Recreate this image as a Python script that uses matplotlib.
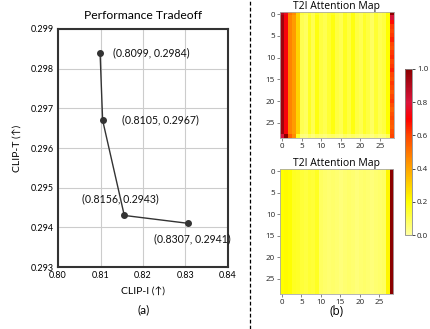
import matplotlib
matplotlib.use("Agg")
import matplotlib.pyplot as plt
from matplotlib.colors import LinearSegmentedColormap
from matplotlib.lines import Line2D
import numpy as np

# (a) performance tradeoff
clip_i = [0.8099, 0.8105, 0.8156, 0.8307]
clip_t = [0.2984, 0.2967, 0.2943, 0.2941]
point_labels = ["(0.8099, 0.2984)", "(0.8105, 0.2967)", "(0.8156, 0.2943)", "(0.8307, 0.2941)"]
label_offsets = [(9, 0, "left"), (14, 0, "left"), (-3, 12, "center"), (3, -11, "center")]

# (b) attention maps, values read per column (29 x 29 tokens)
top_cols = [0.95, 0.72, 0.47, 0.42, 0.30, 0.10, 0.08, 0.16, 0.10, 0.18,
            0.12, 0.10, 0.14, 0.18, 0.12, 0.10, 0.16, 0.12, 0.18, 0.12,
            0.10, 0.15, 0.12, 0.08, 0.14, 0.10, 0.12, 0.20, 0.62]
top_first_row = [0.90, 0.75, 0.50, 0.45, 0.30, 0.12, 0.10, 0.14, 0.10, 0.16,
                 0.12, 0.10, 0.14, 0.16, 0.12, 0.10, 0.16, 0.12, 0.18, 0.12,
                 0.10, 0.14, 0.12, 0.08, 0.14, 0.10, 0.12, 0.20, 1.00]
top_last_row = [0.80, 1.00, 0.55, 0.45, 0.15, 0.05, 0.04, 0.08, 0.05, 0.08,
                0.06, 0.05, 0.07, 0.08, 0.06, 0.05, 0.08, 0.06, 0.08, 0.06,
                0.05, 0.07, 0.06, 0.04, 0.07, 0.05, 0.06, 0.10, 0.60]
top_last_col = [1.00, 0.82, 0.68, 0.62, 0.60, 0.62, 0.65, 0.60, 0.58, 0.62,
                0.64, 0.60, 0.62, 0.65, 0.60, 0.58, 0.62, 0.60, 0.56, 0.60,
                0.62, 0.58, 0.55, 0.58, 0.60, 0.56, 0.55, 0.58, 0.60]
bottom_cols = [0.20, 0.21, 0.20, 0.16, 0.15, 0.13, 0.12, 0.14, 0.13, 0.16,
               0.08, 0.07, 0.06, 0.07, 0.06, 0.05, 0.06, 0.07, 0.06, 0.05,
               0.06, 0.07, 0.06, 0.05, 0.06, 0.07, 0.08, 0.22, 1.00]

cmap_colors = [(0.0, "#ffffa0"), (0.2, "#ffff00"), (0.4, "#ffa500"),
               (0.6, "#ff4500"), (0.7, "#ff0000"), (0.8, "#dc143c"), (1.0, "#8b0000")]
attn_cmap = LinearSegmentedColormap.from_list("attn", cmap_colors)

top_map = np.tile(top_cols, (29, 1))
top_map[0] = top_first_row
top_map[-1] = top_last_row
top_map[1:-1, -1] = top_last_col[1:-1]
bottom_map = np.tile(bottom_cols, (29, 1))

fig = plt.figure(figsize=(4.3, 3.29), dpi=100)

left_font = "Lato"
ax = fig.add_axes([0.1349, 0.1884, 0.3953, 0.7235])
ax.plot(clip_i, clip_t, color="#333333", linewidth=1.0, marker="o", markersize=4, zorder=3)
for x, y, text, (dx, dy, ha) in zip(clip_i, clip_t, point_labels, label_offsets):
    ax.annotate(text, (x, y), xytext=(dx, dy), textcoords="offset points",
                ha=ha, va="center", fontsize=7.6, family=left_font, color="#111111")
ax.set_xlim(0.80, 0.84)
ax.set_ylim(0.293, 0.299)
ax.set_xticks([0.80, 0.81, 0.82, 0.83, 0.84])
ax.set_yticks([0.293, 0.294, 0.295, 0.296, 0.297, 0.298, 0.299])
ax.set_xticklabels([f"{v:.2f}" for v in ax.get_xticks()], family=left_font, fontsize=6.5)
ax.set_yticklabels([f"{v:.3f}" for v in ax.get_yticks()], family=left_font, fontsize=6.5)
ax.tick_params(length=0, pad=3)
ax.grid(color="#cccccc", linewidth=0.8)
ax.set_axisbelow(True)
for spine in ax.spines.values():
    spine.set_color("#333333")
    spine.set_linewidth(1.5)
ax.set_xlabel("CLIP-I (↑)", family=left_font, fontsize=7.5, labelpad=5)
ax.set_ylabel("CLIP-T (↑)", family=left_font, fontsize=7.5, labelpad=6)
ax.set_title("Performance Tradeoff", family=left_font, fontsize=8.7, pad=7)
fig.text(0.333, 0.057, "(a)", ha="center", va="center", family=left_font, fontsize=8.5)

# dashed separator
fig.add_artist(Line2D([0.5814, 0.5814], [0.0, 1.0], color="black",
                      linewidth=0.9, linestyle=(0, (3, 1.8))))

heat_font = "Open Sans"
ticks = [0, 5, 10, 15, 20, 25]
heat_axes = [
    (fig.add_axes([0.651, 0.5805, 0.265, 0.383]), top_map),
    (fig.add_axes([0.651, 0.1064, 0.263, 0.380]), bottom_map),
]
for hax, data in heat_axes:
    im = hax.imshow(data, cmap=attn_cmap, vmin=0, vmax=1, aspect="auto",
                    interpolation="nearest")
    hax.set_xticks(ticks)
    hax.set_yticks(ticks)
    hax.set_xticklabels(ticks, family=heat_font, fontsize=5.8, color="#222222")
    hax.set_yticklabels(ticks, family=heat_font, fontsize=5.8, color="#222222")
    hax.tick_params(length=2, width=0.5, pad=1.5, color="#555555")
    for spine in hax.spines.values():
        spine.set_color("#aaaaaa")
        spine.set_linewidth(0.6)
    hax.set_title("T2I Attention Map", family=heat_font, fontsize=7.5, pad=2)
fig.text(0.782, 0.052, "(b)", ha="center", va="center", family=heat_font, fontsize=8.5)

cax = fig.add_axes([0.942, 0.2857, 0.0163, 0.5046])
cb = fig.colorbar(im, cax=cax, ticks=[0.0, 0.2, 0.4, 0.6, 0.8, 1.0])
cb.ax.set_yticklabels(["0.0", "0.2", "0.4", "0.6", "0.8", "1.0"], family=heat_font,
                      fontsize=5.8, color="#222222")
cb.ax.tick_params(length=2, width=0.5, pad=1.5)
cb.outline.set_edgecolor("#888888")
cb.outline.set_linewidth(0.6)

fig.savefig("out.png", dpi=100)
